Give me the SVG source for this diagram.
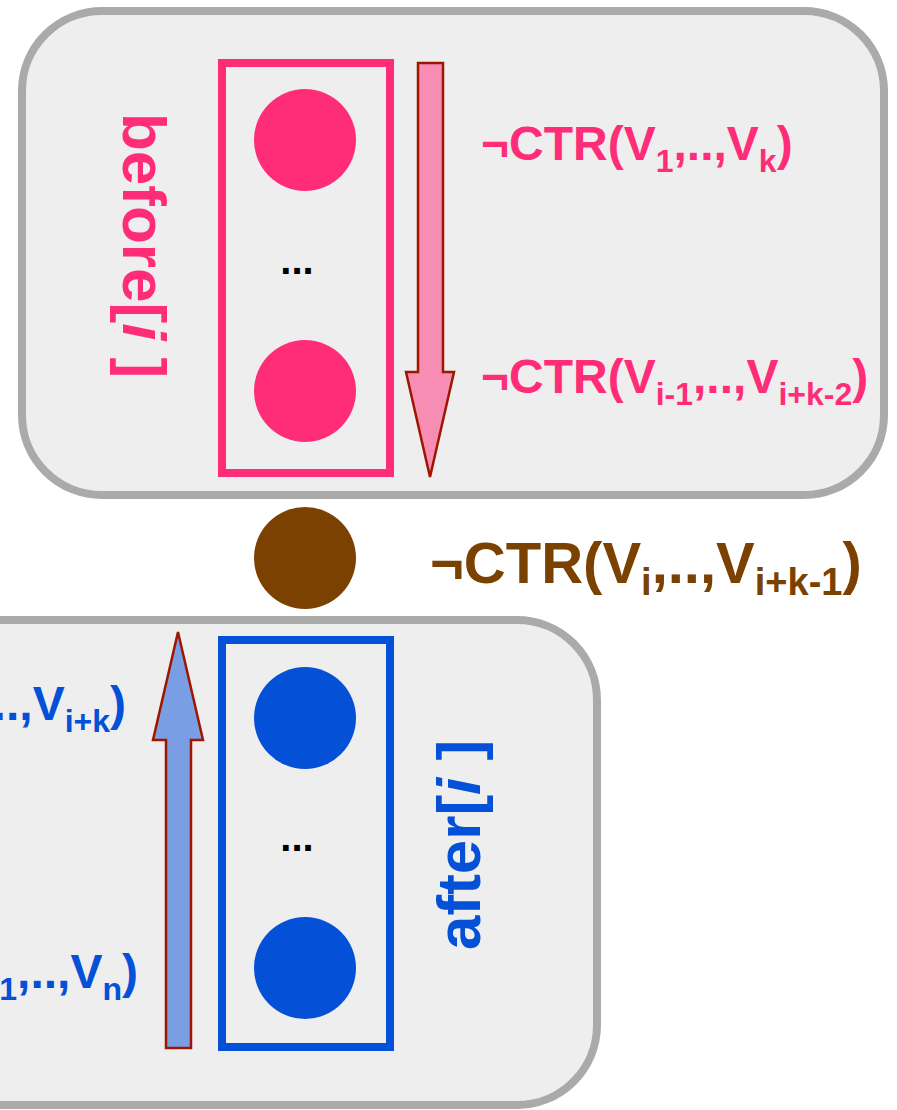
<svg xmlns="http://www.w3.org/2000/svg" width="897" height="1110" viewBox="0 0 897 1110">
  <style>
    .panel { fill: #eeeeee; stroke: #aaaaaa; stroke-width: 8; }
    .lbl { font-family: "Liberation Sans", Arial, sans-serif; font-weight: bold; }
    .pink { fill: #ff2d78; }
    .blue { fill: #0450d6; }
    .brown { fill: #7a4100; }
    .dots { font-family: "Liberation Sans", Arial, sans-serif; font-weight: bold; font-size: 40px; fill: #000; }
    .arrow { stroke: #a01500; stroke-width: 2.5; stroke-linejoin: miter; }
  </style>
  <rect width="897" height="1110" fill="#ffffff"/>

  <!-- before[i] block -->
  <g id="before">
    <rect class="panel" x="22" y="11" width="862" height="484" rx="80" ry="80"/>
    <rect x="222" y="63" width="168" height="410" fill="none" stroke="#ff2d78" stroke-width="8"/>
    <circle class="pink" cx="305" cy="140" r="51"/>
    <circle class="pink" cx="305" cy="391" r="51"/>
    <text class="dots" x="297" y="274" text-anchor="middle">...</text>
    <text class="lbl pink" font-size="62" transform="translate(123,113) rotate(90)">before[<tspan font-style="italic">i</tspan> ]</text>
    <text class="lbl pink" font-size="48" x="481" y="160">¬CTR(V<tspan font-size="32" dy="12">1</tspan><tspan dy="-12">,..,V</tspan><tspan font-size="32" dy="12">k</tspan><tspan dy="-12">)</tspan></text>
    <text class="lbl pink" font-size="48" x="481" y="393">¬CTR(V<tspan font-size="32" dy="12">i-1</tspan><tspan dy="-12">,..,V</tspan><tspan font-size="32" dy="12">i+k-2</tspan><tspan dy="-12">)</tspan></text>
  </g>

  <!-- after[i] block -->
  <g id="after">
    <rect class="panel" x="-265" y="620" width="862" height="485" rx="80" ry="80"/>
    <rect x="222" y="640" width="168" height="407" fill="none" stroke="#0450d6" stroke-width="8"/>
    <circle class="blue" cx="305" cy="718" r="51"/>
    <circle class="blue" cx="305" cy="968" r="51"/>
    <text class="dots" x="297" y="851" text-anchor="middle">...</text>
    <text class="lbl blue" font-size="62" transform="translate(480,950) rotate(-90)">after[<tspan font-style="italic">i</tspan> ]</text>
    <text class="lbl blue" font-size="48" x="126" y="720" text-anchor="end">¬CTR(V<tspan font-size="32" dy="12">i+1</tspan><tspan dy="-12">,..,V</tspan><tspan font-size="32" dy="12">i+k</tspan><tspan dy="-12">)</tspan></text>
    <text class="lbl blue" font-size="48" x="138" y="988" text-anchor="end">¬CTR(V<tspan font-size="32" dy="12">n-k+1</tspan><tspan dy="-12">,..,V</tspan><tspan font-size="32" dy="12">n</tspan><tspan dy="-12">)</tspan></text>
  </g>

  <!-- current item i -->
  <g id="current">
    <circle class="brown" cx="305" cy="558" r="51"/>
    <text class="lbl brown" font-size="58" x="430" y="583">¬CTR(V<tspan font-size="38" dy="12">i</tspan><tspan dy="-12">,..,V</tspan><tspan font-size="38" dy="12">i+k-1</tspan><tspan dy="-12">)</tspan></text>
  </g>

  <!-- sweep direction arrows -->
  <g id="connectors">
    <polygon class="arrow" fill="#f78db3" points="418,63 443,63 443,372 454,372 430,477 406,372 418,372"/>
    <polygon class="arrow" fill="#7a9ee3" points="166,1048 191,1048 191,740 203,740 178,632 153,740 166,740"/>
  </g>
</svg>
